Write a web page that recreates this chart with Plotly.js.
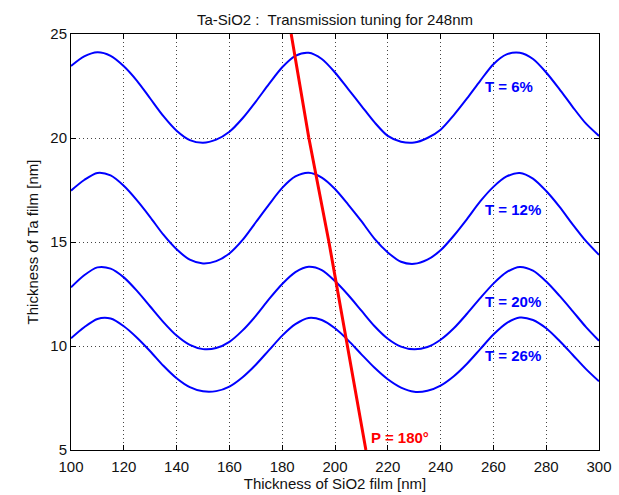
<!DOCTYPE html>
<html>
<head>
<meta charset="utf-8">
<script src="https://cdn.plot.ly/plotly-3.0.1.min.js"></script>
<style>html,body{margin:0;padding:0;background:#fff;}#chart{width:619px;height:495px;}</style>
</head>
<body>
<div id="chart"></div>
<script>
// SiO2 thickness (nm) sample positions
const xSiO2 = [100, 105, 110, 115, 120, 125, 130, 135, 140, 145, 150, 155, 160, 165, 170, 175, 180, 185, 190, 195,
               200, 205, 210, 215, 220, 225, 230, 235, 240, 245, 250, 255, 260, 265, 270, 275, 280, 285, 290, 295, 300];
// Ta thickness (nm) for each transmission level
const yT6  = [23.46, 23.92, 24.12, 23.95, 23.45, 22.75, 21.9, 21.05, 20.35, 19.9, 19.77, 19.92, 20.3, 20.95, 21.75, 22.6, 23.4, 23.95, 24.1, 23.8,
              23.15, 22.35, 21.55, 20.75, 20.1, 19.82, 19.78, 20.0, 20.4, 21.1, 21.9, 22.75, 23.55, 24.02, 24.1, 23.8, 23.15, 22.35, 21.5, 20.7, 20.1];
const yT12 = [17.47, 17.98, 18.32, 18.2, 17.7, 17.0, 16.2, 15.35, 14.65, 14.15, 13.97, 14.08, 14.45, 15.1, 15.95, 16.8, 17.6, 18.15, 18.33, 18.1,
              17.55, 16.8, 16.0, 15.15, 14.5, 14.05, 13.95, 14.15, 14.6, 15.3, 16.1, 16.95, 17.65, 18.15, 18.32, 18.05, 17.45, 16.7, 15.85, 15.05, 14.38];
const yT20 = [12.82, 13.4, 13.78, 13.72, 13.3, 12.65, 11.9, 11.15, 10.5, 10.05, 9.85, 9.9, 10.2, 10.75, 11.45, 12.25, 12.98, 13.55, 13.81, 13.65,
              13.12, 12.45, 11.7, 10.95, 10.35, 9.97, 9.84, 9.95, 10.3, 10.85, 11.55, 12.3, 13.0, 13.55, 13.8, 13.62, 13.1, 12.42, 11.68, 10.92, 10.25];
const yT26 = [10.37, 10.9, 11.3, 11.32, 10.95, 10.4, 9.75, 9.05, 8.45, 8.02, 7.82, 7.83, 8.05, 8.5, 9.1, 9.8, 10.5, 11.05, 11.35, 11.25,
              10.85, 10.27, 9.6, 8.95, 8.4, 8.0, 7.8, 7.85, 8.1, 8.55, 9.15, 9.85, 10.55, 11.1, 11.37, 11.25, 10.85, 10.25, 9.58, 8.9, 8.3];

// 180 degree phase line
const xP180 = [183.4, 190.1, 197.7, 204.8, 211.7];
const yP180 = [25, 20, 15, 10, 5];

const curveLabels = ["T = 6%", "T = 12%", "T = 20%", "T = 26%"];
const labelX = [256, 256, 256, 256];
const labelY = [22.5, 16.54, 12.13, 9.52];
const phaseLabel = "P = 180°";
const phaseLabelX = 212.9;
const phaseLabelY = 5.59;

const xTicks = [100, 120, 140, 160, 180, 200, 220, 240, 260, 280, 300];
const yTicks = [5, 10, 15, 20, 25];

const FONT = "Liberation Sans, Arial, Helvetica, sans-serif";
const blue = "#0000ff";
const red = "#ff0000";

function blueTrace(y, name) {
  return {x: xSiO2, y: y, name: name, type: "scatter", mode: "lines",
          line: {color: blue, width: 2, shape: "spline", smoothing: 0.8},
          hoverinfo: "skip"};
}

const data = [
  blueTrace(yT6, curveLabels[0]),
  blueTrace(yT12, curveLabels[1]),
  blueTrace(yT20, curveLabels[2]),
  blueTrace(yT26, curveLabels[3]),
  {x: xP180, y: yP180, name: phaseLabel, type: "scatter", mode: "lines",
   line: {color: red, width: 3}, hoverinfo: "skip"}
];

const annotations = curveLabels.map((t, i) => ({
  x: labelX[i], y: labelY[i], xref: "x", yref: "y", text: "<b>" + t + "</b>",
  showarrow: false, xanchor: "left", yanchor: "middle",
  font: {family: FONT, size: 15, color: blue}
}));
annotations.push({
  x: phaseLabelX, y: phaseLabelY, xref: "x", yref: "y", text: "<b>" + phaseLabel + "</b>",
  showarrow: false, xanchor: "left", yanchor: "middle",
  font: {family: FONT, size: 15, color: red}
});

const axisCommon = {
  showgrid: true, gridcolor: "#444", griddash: "1px,3px", gridwidth: 1,
  showline: true, linecolor: "#000", linewidth: 1, mirror: "allticks",
  ticks: "inside", ticklen: 5, tickcolor: "#000", zeroline: false,
  tickfont: {family: FONT, size: 15, color: "#111"}
};

const layout = {
  width: 619, height: 495,
  margin: {l: 71, r: 20, t: 34, b: 45},
  paper_bgcolor: "#fff", plot_bgcolor: "#fff",
  showlegend: false,
  title: {text: "Ta-SiO2 :  Transmission tuning for 248nm", x: 0.5, xref: "paper", xanchor: "center",
          y: 1 - 20/495, yref: "container", yanchor: "middle",
          font: {family: FONT, size: 15, color: "#111"}},
  xaxis: Object.assign({}, axisCommon, {
    range: [100, 300], tickmode: "array", tickvals: xTicks, ticktext: xTicks.map(String),
    ticklabelstandoff: 3,
    title: {text: "Thickness of SiO2 film [nm]", standoff: 2, font: {family: FONT, size: 15, color: "#111"}}
  }),
  yaxis: Object.assign({}, axisCommon, {
    range: [5, 25], tickmode: "array", tickvals: yTicks, ticktext: yTicks.map(String),
    title: {text: "Thickness of Ta film [nm]", standoff: 8, font: {family: FONT, size: 15, color: "#111"}}
  }),
  annotations: annotations
};

Plotly.newPlot("chart", data, layout, {displayModeBar: false, staticPlot: true});
</script>
</body>
</html>
